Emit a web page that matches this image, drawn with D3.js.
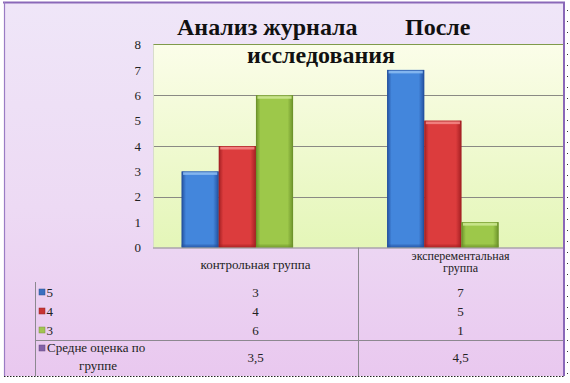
<!DOCTYPE html>
<html>
<head>
<meta charset="utf-8">
<script src="https://cdn.jsdelivr.net/npm/d3@7/dist/d3.min.js"></script>
<style>
  html, body { margin: 0; padding: 0; background: #ffffff; }
  svg { display: block; }
</style>
</head>
<body>
<svg id="chart" width="570" height="383" font-family="'Liberation Serif', 'DejaVu Serif', serif"></svg>
<script>
// ---- data ----
const categories = ["контрольная группа", "эксперементальная группа"];
const categoryLines = [["контрольная группа"], ["эксперементальная", "группа"]];
const seriesNames = ["5", "4", "3"];
const series5 = [3, 7];
const series4 = [4, 5];
const series3 = [6, 1];
const avgName = ["Средне оценка по", "группе"];
const avgLabels = ["3,5", "4,5"];
const yTickValues = [0, 1, 2, 3, 4, 5, 6, 7, 8];
const gridValues = [2, 4, 6];
const titleLine1 = ["Анализ журнала", "После"];
const titleLine2 = "исследования";

const FONT = "'Liberation Serif', 'DejaVu Serif', serif";
const seriesValues = [series5, series4, series3];
const barColors = [
  { dark: "#23509e", mid: "#4386dc", light: "#8dbdf2" },
  { dark: "#a31f22", mid: "#dc3c3d", light: "#f48a88" },
  { dark: "#6c922a", mid: "#9dc84a", light: "#cfe994" }
];
const keyColors = ["#3a6fc0", "#c83434", "#a2c452", "#8262a8"];

const svg = d3.select("#chart");
const defs = svg.append("defs");

const bg = defs.append("linearGradient").attr("id", "bg").attr("x1", 0).attr("y1", 0).attr("x2", 0).attr("y2", 1);
bg.append("stop").attr("offset", "0%").attr("stop-color", "#efe6f8");
bg.append("stop").attr("offset", "55%").attr("stop-color", "#eddaf4");
bg.append("stop").attr("offset", "100%").attr("stop-color", "#e9c8ef");

const pg = defs.append("linearGradient").attr("id", "plotbg").attr("x1", 0).attr("y1", 0).attr("x2", 0).attr("y2", 1);
pg.append("stop").attr("offset", "0%").attr("stop-color", "#fbfde9");
pg.append("stop").attr("offset", "100%").attr("stop-color", "#e4f6b8");

barColors.forEach((c, i) => {
  const g = defs.append("linearGradient").attr("id", "bar" + i).attr("x1", 0).attr("y1", 0).attr("x2", 1).attr("y2", 0);
  g.append("stop").attr("offset", "0%").attr("stop-color", c.dark);
  g.append("stop").attr("offset", "12%").attr("stop-color", c.mid);
  g.append("stop").attr("offset", "85%").attr("stop-color", c.mid);
  g.append("stop").attr("offset", "100%").attr("stop-color", c.dark);
});

svg.append("rect").attr("x", 4).attr("y", 2).attr("width", 560).attr("height", 374).attr("fill", "url(#bg)");

const plot = { left: 153, right: 563, top: 44.5, bottom: 247.5 };

svg.append("rect")
  .attr("x", plot.left).attr("y", plot.top)
  .attr("width", plot.right - plot.left).attr("height", plot.bottom - plot.top)
  .attr("fill", "url(#plotbg)");

const y = d3.scaleLinear().domain([0, 8]).range([plot.bottom, plot.top]);
const x0 = d3.scaleBand().domain(categories).range([134.6, 545.6]).paddingInner(0).paddingOuter(0);
const x1 = d3.scaleBand().domain(seriesNames).range([47, 158.5]).padding(0);

svg.append("g").selectAll("line").data(gridValues).join("line")
  .attr("x1", plot.left).attr("x2", plot.right)
  .attr("y1", d => Math.round(y(d)) + 0.5).attr("y2", d => Math.round(y(d)) + 0.5)
  .attr("stroke", "#8a8a84").attr("stroke-width", 1);

svg.append("line").attr("x1", plot.left).attr("x2", plot.right)
  .attr("y1", plot.top).attr("y2", plot.top)
  .attr("stroke", "#7f9a4a").attr("stroke-width", 1.2);
svg.append("line").attr("x1", plot.left + 0.5).attr("x2", plot.left + 0.5)
  .attr("y1", plot.top).attr("y2", plot.bottom)
  .attr("stroke", "#d8dccc").attr("stroke-width", 1);

const yAxis = d3.axisLeft(y).tickValues(yTickValues).tickSize(0).tickPadding(0).tickFormat(d3.format("d"));
const yg = svg.append("g").attr("transform", "translate(141,0)").call(yAxis);
yg.attr("font-family", FONT).attr("font-size", 13);
yg.select(".domain").remove();
yg.selectAll("text").attr("fill", "#222");

const groups = svg.append("g").selectAll("g").data(categories).join("g")
  .attr("transform", d => `translate(${x0(d)},0)`);

groups.each(function(cat, ci) {
  const g = d3.select(this);
  seriesNames.forEach((s, si) => {
    const v = seriesValues[si][ci];
    const bx = x1(s), bw = x1.bandwidth();
    const by = y(v), bh = y(0) - y(v);
    g.append("rect").attr("x", bx).attr("y", by).attr("width", bw).attr("height", bh)
      .attr("fill", "url(#bar" + si + ")");
    g.append("rect").attr("x", bx + 1.5).attr("y", by + 0.5).attr("width", bw - 3).attr("height", 3)
      .attr("fill", barColors[si].light).attr("opacity", 0.85);
    g.append("rect").attr("x", bx).attr("y", y(0) - 3).attr("width", bw).attr("height", 3)
      .attr("fill", barColors[si].dark).attr("opacity", 0.45);
    g.append("rect").attr("x", bx + 0.5).attr("y", by + 0.5).attr("width", bw - 1).attr("height", bh - 1)
      .attr("fill", "none").attr("stroke", barColors[si].dark).attr("stroke-width", 0.8).attr("opacity", 0.7);
  });
});

svg.append("line").attr("x1", plot.left).attr("x2", plot.right)
  .attr("y1", plot.bottom + 0.5).attr("y2", plot.bottom + 0.5)
  .attr("stroke", "#8a8a8a").attr("stroke-width", 1);

// data table
const tx = d3.scaleBand().domain(categories).range([plot.left, plot.right]);
const table = svg.append("g").attr("font-family", FONT).attr("fill", "#222");
const lineColor = "#8c8890";
table.append("line").attr("x1", tx(categories[1]) + 0.5).attr("x2", tx(categories[1]) + 0.5)
  .attr("y1", plot.bottom).attr("y2", 376).attr("stroke", lineColor);
table.append("line").attr("x1", 35.5).attr("x2", 35.5).attr("y1", 282).attr("y2", 376).attr("stroke", lineColor);
table.append("line").attr("x1", 35.5).attr("x2", plot.right).attr("y1", 340.5).attr("y2", 340.5).attr("stroke", lineColor);

const fs = 13;
categoryLines.forEach((lines, ci) => {
  const cx = tx(categories[ci]) + tx.bandwidth() / 2;
  const startY = lines.length === 1 ? 269 : 259.5;
  lines.forEach((ln, li) => {
    table.append("text").attr("x", cx).attr("y", startY + li * 12.5)
      .attr("text-anchor", "middle").attr("font-size", lines.length === 1 ? fs : 12).text(ln);
  });
});

const rowY = [297, 316, 335];
seriesNames.forEach((s, si) => {
  table.append("rect").attr("x", 39).attr("y", rowY[si] - 8).attr("width", 6).attr("height", 6)
    .attr("fill", keyColors[si]).attr("stroke", d3.color(keyColors[si]).darker(0.8)).attr("stroke-width", 0.5);
  table.append("text").attr("x", 46.5).attr("y", rowY[si]).attr("font-size", 13).text(s);
  categories.forEach((c, ci) => {
    table.append("text").attr("x", tx(c) + tx.bandwidth() / 2).attr("y", rowY[si])
      .attr("text-anchor", "middle").attr("font-size", fs).text(seriesValues[si][ci]);
  });
});

table.append("rect").attr("x", 39).attr("y", 345).attr("width", 6).attr("height", 6)
  .attr("fill", keyColors[3]).attr("stroke", d3.color(keyColors[3]).darker(0.8)).attr("stroke-width", 0.5);
table.append("text").attr("x", 47).attr("y", 352).attr("font-size", fs).text(avgName[0]);
table.append("text").attr("x", 98).attr("y", 370).attr("text-anchor", "middle").attr("font-size", fs).text(avgName[1]);
categories.forEach((c, ci) => {
  table.append("text").attr("x", tx(c) + tx.bandwidth() / 2).attr("y", 362)
    .attr("text-anchor", "middle").attr("font-size", fs).text(avgLabels[ci]);
});

// title
const title = svg.append("g").attr("font-family", FONT).attr("font-weight", "bold").attr("fill", "#111").attr("font-size", 24);
title.append("text").attr("x", 177).attr("y", 35).text(titleLine1[0]);
title.append("text").attr("x", 405).attr("y", 35).text(titleLine1[1]);
title.append("text").attr("x", 321).attr("y", 63).attr("text-anchor", "middle").text(titleLine2);

// outer border
svg.append("line").attr("x1", 3).attr("x2", 565).attr("y1", 2.5).attr("y2", 2.5).attr("stroke", "#8a68b8").attr("stroke-width", 2);
svg.append("line").attr("x1", 4.5).attr("x2", 4.5).attr("y1", 2).attr("y2", 376).attr("stroke", "#9a7cc4").attr("stroke-width", 1.2);
svg.append("line").attr("x1", 564).attr("x2", 564).attr("y1", 2).attr("y2", 376).attr("stroke", "#8a68b8").attr("stroke-width", 2);
svg.append("line").attr("x1", 4).attr("x2", 564).attr("y1", 376.5).attr("y2", 376.5).attr("stroke", "#222").attr("stroke-width", 1).attr("stroke-dasharray", "1.5,1.5");
svg.append("line").attr("x1", 567.5).attr("x2", 567.5).attr("y1", 10).attr("y2", 376)
  .attr("stroke", "#333").attr("stroke-width", 1).attr("stroke-dasharray", "1,10");
</script>
</body>
</html>
